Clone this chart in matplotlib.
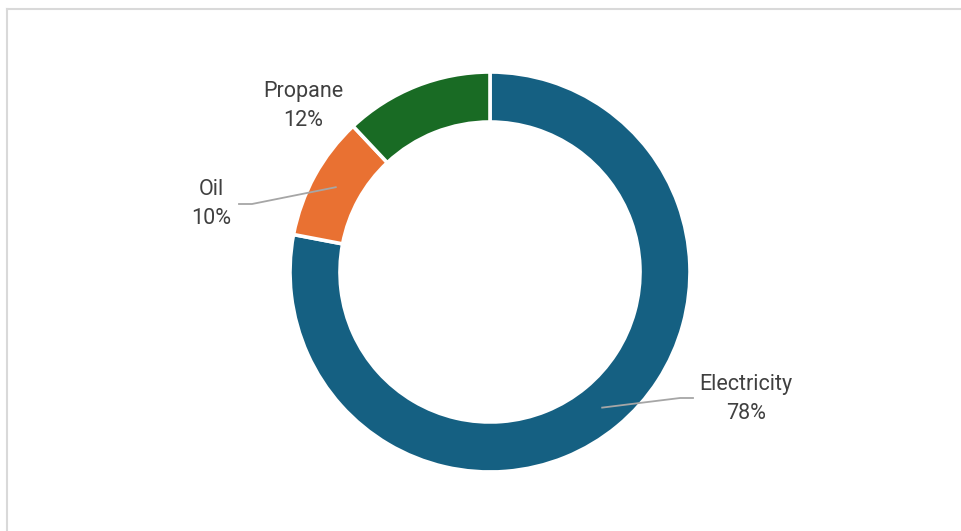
import numpy as np
import matplotlib.pyplot as plt
from matplotlib.lines import Line2D

# Heating fuel shares
fuels = ['Electricity', 'Oil', 'Propane']
shares = [78, 10, 12]
colors = ['#156082', '#E97132', '#196B24']

# label anchor points (data units, pie radius = 1) and leader elbows
label_pos = {'Electricity': (1.28, -0.635), 'Oil': (-1.395, 0.34), 'Propane': (-0.935, 0.83)}
elbows = {'Electricity': [(0.95, -0.63), (1.015, -0.63)], 'Oil': [(-1.19, 0.34), (-1.255, 0.34)]}

W, H = 962, 531
fig = plt.figure(figsize=(W / 100, H / 100), dpi=100)

# light frame along the top and left edges
fig.add_artist(Line2D([7 / W, 1], [1 - 9 / H, 1 - 9 / H], color='#d9d9d9', lw=1.5))
fig.add_artist(Line2D([7 / W, 7 / W], [0, 1 - 9 / H], color='#d9d9d9', lw=1.5))

cx, cy, r = 490, 272, 200
ax = fig.add_axes([(cx - r) / W, (H - cy - r) / H, 2 * r / W, 2 * r / H])
wedges, _ = ax.pie(shares, colors=colors, startangle=90, counterclock=False,
                   radius=1, wedgeprops=dict(width=0.25, edgecolor='white', linewidth=2.6))
ax.set_xlim(-1, 1)
ax.set_ylim(-1, 1)
ax.set_aspect('equal')
ax.axis('off')

font = ['Roboto', 'DejaVu Sans']
for w, name, val in zip(wedges, fuels, shares):
    lx, ly = label_pos[name]
    ax.text(lx, ly, f'{name}\n{val}%', ha='center', va='center', fontsize=15.5,
            color='#404040', family=font, linespacing=1.5, clip_on=False)
    if name in elbows:
        mid = np.deg2rad((w.theta1 + w.theta2) / 2)
        start = (0.88 * np.cos(mid), 0.88 * np.sin(mid))
        pts = [start] + elbows[name]
        xs, ys = zip(*pts)
        ax.plot(xs, ys, color='#a6a6a6', lw=1.3, clip_on=False)

fig.savefig('out.png', dpi=100)
